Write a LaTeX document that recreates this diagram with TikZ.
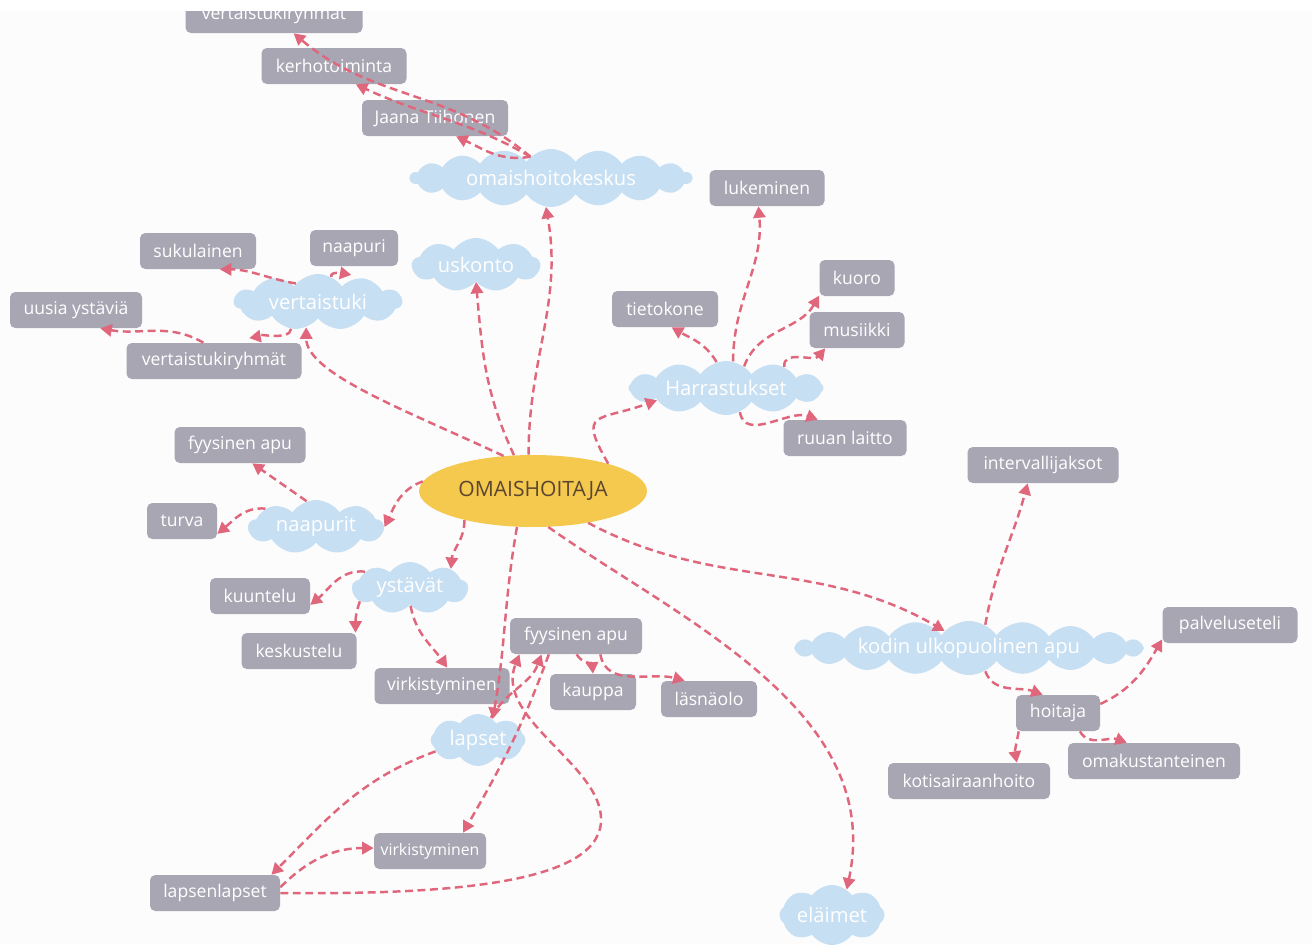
\documentclass[tikz,border=0pt]{standalone}
\usepackage{fontspec}
\setmainfont{Open Sans}
\usetikzlibrary{positioning,arrows.meta,shapes.symbols,shapes.geometric}

\definecolor{chipfill}{HTML}{A9A6B4}
\definecolor{puffblue}{HTML}{C7DFF3}
\definecolor{linkred}{HTML}{E0667B}
\definecolor{corefill}{HTML}{F5C84E}
\definecolor{coretext}{HTML}{5B4630}
\definecolor{paper}{HTML}{FCFCFD}

\begin{document}
\begin{tikzpicture}[x=0.02cm, y=0.02cm,
  chip/.style={fill=chipfill, text=white, rounded corners=3pt, minimum width=#1*0.02cm,
               minimum height=0.72cm, inner xsep=2pt, font=\fontsize{10}{12}\selectfont},
  puff/.style n args={3}{cloud, cloud puffs=#3, cloud puff arc=110, cloud ignores aspect,
               fill=puffblue, text=white, minimum width=#1*0.02cm, minimum height=#2*0.02cm,
               inner xsep=1pt, inner ysep=0pt, font=\fontsize{11.5}{13}\selectfont},
  core/.style={ellipse, fill=corefill, text=coretext, minimum width=4.56cm, minimum height=1.44cm,
               font=\fontsize{12}{14}\selectfont},
  arr/.style={-{Triangle[length=6.5pt,width=7pt]}, linkred, line width=1.4pt,
              dash pattern=on 4.5pt off 2.6pt}]
\useasboundingbox (0,0) rectangle (1312,-944);
\fill[paper] (0,0) rectangle (1312,-944);

% centre and clouds
\node[core] (ctr) at (533,-491) {OMAISHOITAJA};
\node[puff={282}{58}{18}] (okeskus) at (551,-178) {omaishoitokeskus};
\node[puff={128}{54}{9}] (uskonto) at (476,-265) {uskonto};
\node[puff={168}{56}{11}] (vtuki) at (318,-302) {vertaistuki};
\node[puff={195}{54}{12}] (harr) at (726,-388) {Harrastukset};
\node[puff={135}{54}{9}] (naapurit) at (316,-527) {naapurit};
\node[puff={116}{52}{9}] (ystavat) at (410,-588) {ystävät};
\node[puff={350}{54}{20}] (kodin) at (969,-648) {kodin ulkopuolinen apu};
\node[puff={95}{52}{8}] (lapset) at (478,-740) {lapset};
\node[puff={105}{60}{8}] (elaimet) at (832,-915) {eläimet};

% boxes
\node[chip=177] (vtr1) at (274,-15) {vertaistukiryhmät};
\node[chip=145] (kerho) at (334,-66) {kerhotoiminta};
\node[chip=146] (jaana) at (435,-118) {Jaana Tiihonen};
\node[chip=115] (luke) at (767,-188) {lukeminen};
\node[chip=116] (suku) at (198,-251) {sukulainen};
\node[chip=88] (naapuri) at (354,-248) {naapuri};
\node[chip=132] (uusia) at (76,-310) {uusia ystäviä};
\node[chip=175] (vtr2) at (214,-361) {vertaistukiryhmät};
\node[chip=75] (kuoro) at (857,-278) {kuoro};
\node[chip=106] (tieto) at (665,-309) {tietokone};
\node[chip=95] (musiikki) at (857,-330) {musiikki};
\node[chip=123] (ruuan) at (845,-438) {ruuan laitto};
\node[chip=131] (fyys1) at (240,-445) {fyysinen apu};
\node[chip=151] (interv) at (1043,-465) {intervallijaksot};
\node[chip=70] (turva) at (182,-521) {turva};
\node[chip=100] (kuuntelu) at (260,-596) {kuuntelu};
\node[chip=115] (kesk) at (299,-651) {keskustelu};
\node[chip=132] (fyys2) at (576,-636) {fyysinen apu};
\node[chip=135] (palv) at (1230,-625) {palveluseteli};
\node[chip=135] (virk1) at (442,-686) {virkistyminen};
\node[chip=86] (kauppa) at (593,-692) {kauppa};
\node[chip=96] (lasna) at (709,-699) {läsnäolo};
\node[chip=84] (hoitaja) at (1058,-713) {hoitaja};
\node[chip=172] (omak) at (1154,-761) {omakustanteinen};
\node[chip=162] (kotis) at (969,-781) {kotisairaanhoito};
\node[chip=112, font=\fontsize{9}{11}\selectfont] (virk2) at (430,-851) {virkistyminen};
\node[chip=130] (llapset) at (215,-893) {lapsenlapset};

% links
\foreach \a/\b/\o/\i in {okeskus.134/jaana.-41/190/-25, okeskus.134/kerho.-40/150/-25,
    okeskus.134/vtr1.-43/140/-40, ctr.97/okeskus.-100/90/-80, ctr.118/uskonto.south/115/-85,
    vtuki.140/suku.-40/170/0, vtuki.62/naapuri.-125/110/-70, vtuki.-135/vtr2.21/-95/130,
    vtr2.120/uusia.-37/150/-10, harr.75/luke.-115/90/-85, harr.110/tieto.-70/120/-30,
    harr.50/kuoro.-155/70/-120, harr.20/musiikki.-150/95/-130, harr.-60/ruuan.146/-80/160,
    ctr.175/naapurit.0/200/65, naapurit.110/fyys1.-56/145/-35, naapurit.160/turva.-20/175/40,
    ctr.-157/ystavat.25/-90/85, ystavat.160/kuuntelu.-10/175/40, ystavat.195/kesk.18/-110/90,
    ystavat.-88/virk1.74/-80/125, ctr.-114/lapset.55/-100/80, lapset.60/fyys2.-152/60/-110,
    fyys2.-146/virk2.29/-110/60, lapset.195/llapset.18/200/45, llapset.5/virk2.177/45/180,
    fyys2.-88/kauppa.north/-60/95, fyys2.-37/lasna.143/-80/165, ctr.-30/kodin.145/-28/150,
    kodin.55/interv.-130/80/-105, kodin.-55/hoitaja.130/-70/160, hoitaja.12/palv.-168/25/-120,
    hoitaja.-155/kotis.21/-100/100, hoitaja.-40/omak.146/-60/160}
  \draw[arr] (\a) to[out=\o,in=\i] (\b);
\draw[arr] (ctr.130) to[out=155,in=-90,out looseness=1.2,in looseness=0.5] (vtuki.-115);
\draw[arr] (ctr.20) to[out=120,in=200,looseness=2] (harr.190);
\draw[arr] (llapset.east) .. controls (470,-895) and (615,-880) .. (600,-810)
  .. controls (590,-760) and (495,-715) .. (fyys2.-162);
\draw[arr] (ctr.-67) .. controls (680,-620) and (885,-710) .. (elaimet.60);

\fill[white] (0,0) rectangle (1312,-11);
\end{tikzpicture}
\end{document}
